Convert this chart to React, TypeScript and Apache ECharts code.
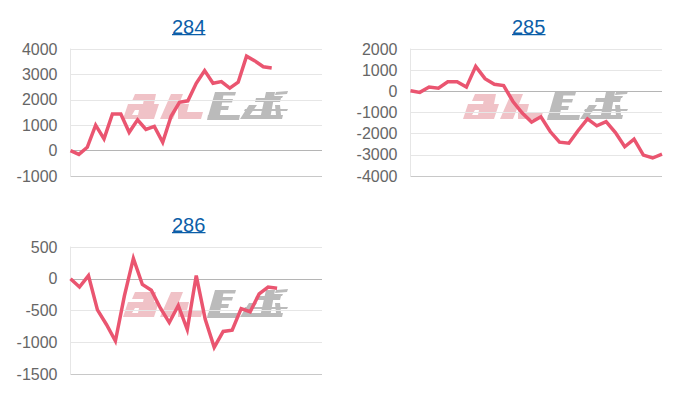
import React, { useEffect, useRef } from 'react';
import * as echarts from 'echarts';

const titles = ['284', '285', '286'];

const values284 = [0, -150, 130, 1000, 460, 1440, 1440, 720, 1210, 830, 950, 330, 1350, 1900, 1960, 2650, 3150, 2650, 2720, 2460, 2690, 3720, 3530, 3300, 3250];
const values285 = [30, -50, 200, 150, 450, 450, 200, 1180, 600, 330, 270, -480, -1030, -1450, -1200, -1900, -2400, -2450, -1850, -1300, -1630, -1430, -1950, -2620, -2260, -3010, -3150, -2970];
const values286 = [0, -130, 50, -490, -720, -980, -270, 320, -90, -180, -460, -690, -420, -800, 50, -640, -1080, -830, -810, -470, -520, -240, -130, -150];

// how many slots each x axis has (some runs stop before the end)
const slots = [31, 28, 29];
const series = [values284, values285, values286];

const yMin = [-1000, -4000, -1500];
const yMax = [4000, 2000, 500];
const yStep = [1000, 1000, 500];

const GRID_W = 251.5;
const GRID_H = 127;
const lefts = [70.5, 410.5, 70.5];
const tops = [49, 49, 247];

const LINE = '#ea5570';
const LIGHT = '#e6e6e6';
const ZERO = '#b5b5b5';
const BOTTOM = '#c8c8c8';
const LINK = '#0b5ea8';
const FONT = '"Liberation Sans", Arial, sans-serif';

// the site's logo behind each plot, traced roughly
const LOGO_PINK =
  'M12 3L33 3L31 10L9 10Z M5 13L36 13L31 28L0 28Z M12 19L9 24L15 24L16 19Z M22 3L33 3L28 28L17 28Z ' +
  'M48 3L60 3L50 28L37 28Z M55 13L66 13L64 21L80 21L78 28L55 28Z';
const LOGO_GREY =
  'M92 1L113 1L112 4.5L91 4.5Z M90 8L110 8L109 11.5L89 11.5Z M88 15L106 15L105 19L87 19Z M85 24L117 24L116 29L84 29Z M92 1L101 1L96 29L84 29Z ' +
  'M133 7L158 7L157 11L132 11Z M122 18L165 18L164 20L121 20Z M120 24L160 24L159 28L119 28Z M143 1L152 1L147 28L137 28Z ' +
  'M126 14L134 14L124 28L117 28Z M152 14L157 14L158 24L153 24Z M153 1L165 0L164 3L152 4Z M151 5L160 5L159 7L150 7Z';

echarts.graphic.registerShape('logoPink', echarts.graphic.extendPath(LOGO_PINK, {}));
echarts.graphic.registerShape('logoGrey', echarts.graphic.extendPath(LOGO_GREY, {}));

const splitColors = (i: number) => {
  const colors: string[] = [];
  for (let v = yMin[i]; v <= yMax[i]; v += yStep[i]) {
    colors.push(v === yMin[i] ? BOTTOM : v === 0 ? ZERO : LIGHT);
  }
  return colors;
};

const watermark = (i: number) => {
  const x = lefts[i] + 52.5;
  const y = tops[i] + 42;
  return [
    { type: 'logoPink', z: 0, silent: true, x, y, style: { fill: 'rgba(222,120,130,0.45)' } },
    { type: 'logoGrey', z: 0, silent: true, x, y, style: { fill: 'rgba(150,150,150,0.65)' } },
  ];
};

const underline = (i: number) => ({
  type: 'rect',
  silent: true,
  shape: { x: lefts[i] + 101.5, y: tops[i] - 15, width: 33.5, height: 1.2 },
  style: { fill: LINK },
});

const App: React.FC = () => {
  const chartRef = useRef<HTMLDivElement>(null);

  useEffect(() => {
    if (!chartRef.current) return;
    const chart = echarts.init(chartRef.current, undefined, { renderer: 'svg' });

    const option: any = {
      animation: false,
      backgroundColor: '#fff',
      title: titles.map((t, i) => ({
        text: t,
        left: lefts[i] + 101.5,
        top: tops[i] - 32,
        padding: 0,
        textStyle: { color: LINK, fontSize: 20, fontWeight: 'normal', fontFamily: FONT },
      })),
      grid: titles.map((_, i) => ({
        left: lefts[i],
        top: tops[i],
        width: GRID_W,
        height: GRID_H,
      })),
      xAxis: titles.map((_, i) => ({
        type: 'category',
        gridIndex: i,
        boundaryGap: false,
        data: Array.from({ length: slots[i] }, (_v, k) => String(k)),
        axisLine: { show: false },
        axisTick: { show: false },
        axisLabel: { show: false },
        splitLine: { show: false },
      })),
      yAxis: titles.map((_, i) => ({
        type: 'value',
        gridIndex: i,
        min: yMin[i],
        max: yMax[i],
        interval: yStep[i],
        axisLine: { show: true, lineStyle: { color: LIGHT, width: 1 } },
        axisTick: { show: false },
        axisLabel: {
          color: '#666',
          fontSize: 16,
          fontFamily: FONT,
          margin: 13,
          formatter: (v: number) => String(v),
        },
        splitLine: { show: true, lineStyle: { color: splitColors(i), width: 1 } },
      })),
      series: series.map((data, i) => ({
        type: 'line',
        xAxisIndex: i,
        yAxisIndex: i,
        data,
        symbol: 'none',
        lineStyle: { color: LINE, width: 3.5, join: 'miter' },
        z: 5,
      })),
      graphic: { elements: [0, 1, 2].flatMap((i) => [...watermark(i), underline(i)]) },
    };

    chart.setOption(option);

    return () => {
      chart.dispose();
    };
  }, []);

  return <div ref={chartRef} style={{ position: 'absolute', left: 0, top: 0, width: 700, height: 400 }} />;
};

export default App;
